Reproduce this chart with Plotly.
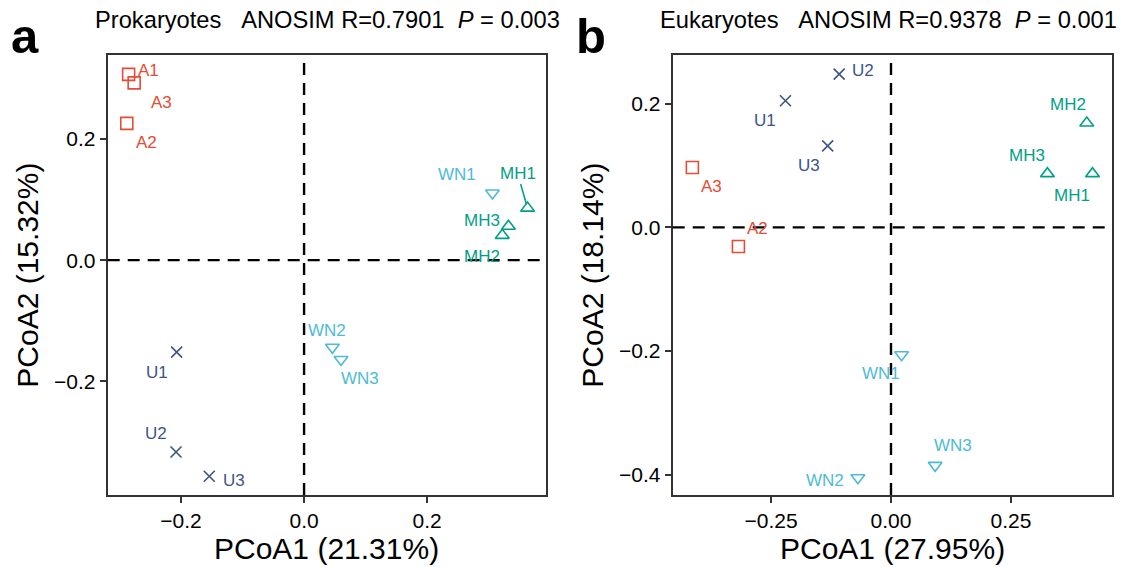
import plotly.graph_objects as go

FONT = "Liberation Sans, Arial, Helvetica, sans-serif"

# ---------------- data ----------------
# Panel a: Prokaryotes
pro_samples = ["A1", "A2", "A3", "MH1", "MH2", "MH3", "U1", "U2", "U3", "WN1", "WN2", "WN3"]
pro_pc1 = [-0.285, -0.288, -0.276, 0.363, 0.322, 0.332, -0.207, -0.208, -0.154, 0.306, 0.046, 0.060]
pro_pc2 = [0.307, 0.226, 0.293, 0.086, 0.041, 0.056, -0.152, -0.317, -0.357, 0.111, -0.144, -0.164]

# Panel b: Eukaryotes
euk_samples = ["A2", "A3", "MH1", "MH2", "MH3", "U1", "U2", "U3", "WN1", "WN2", "WN3"]
euk_pc1 = [-0.318, -0.414, 0.420, 0.408, 0.326, -0.220, -0.108, -0.132, 0.022, -0.069, 0.092]
euk_pc2 = [-0.031, 0.097, 0.087, 0.169, 0.087, 0.205, 0.248, 0.132, -0.206, -0.405, -0.385]

groups = ["A", "MH", "U", "WN"]
panel_titles = ["Prokaryotes", "Eukaryotes"]
anosim_r = ["0.7901", "0.9378"]
anosim_p = ["0.003", "0.001"]
x_titles = ["PCoA1 (21.31%)", "PCoA1 (27.95%)"]
y_titles = ["PCoA2 (15.32%)", "PCoA2 (18.14%)"]
panel_letters = ["a", "b"]
xtick_vals = [[-0.2, 0.0, 0.2], [-0.25, 0.0, 0.25]]
ytick_vals = [[-0.2, 0.0, 0.2], [-0.4, -0.2, 0.0, 0.2]]

# ---------------- style ----------------
colors = {"A": "#E64B35", "MH": "#00A087", "U": "#3C5488", "WN": "#4DBBD5"}
symbols = {"A": "square-open", "MH": "triangle-up-open", "U": "x-thin-open", "WN": "triangle-down-open"}
# label offsets in screen pixels (dx, dy downward), mimicking ggrepel placement
pro_label_off = {"A1": (20, -4), "A2": (20, 19), "A3": (27, 20), "MH1": (-10, -35),
                 "MH2": (-20, 21), "MH3": (-26, -6), "U1": (-20, 20), "U2": (-20, -19),
                 "U3": (25, 4), "WN1": (-35, -18), "WN2": (-5, -17), "WN3": (19, 19)}
euk_label_off = {"A2": (19, -18), "A3": (19, 19), "MH1": (-21, 22), "MH2": (-19, -18),
                 "MH3": (-20, -18), "U1": (-20, 20), "U2": (24, -4), "U3": (-19, 20),
                 "WN1": (-21, 19), "WN2": (-33, 3), "WN3": (18, -20)}
segment_labels = {("a", "MH1")}

W, H = 1129, 567
x_domains = [[107.7 / W, 546 / W], [672.7 / W, 1111.7 / W]]
y_domain = [1 - 495 / H, 1 - 55 / H]
x_ranges = [[-0.319, 0.393], [-0.455, 0.460]]
y_ranges = [[-0.388, 0.339], [-0.433, 0.279]]
tick_formats = [".1f", ".2f"]

fig = go.Figure()
annotations = []
shapes = []

panels = [
    (pro_samples, pro_pc1, pro_pc2, pro_label_off),
    (euk_samples, euk_pc1, euk_pc2, euk_label_off),
]

for i, (samples, pc1, pc2, offs) in enumerate(panels):
    xa = "x" if i == 0 else "x2"
    ya = "y" if i == 0 else "y2"
    for g in groups:
        idx = [k for k, s in enumerate(samples) if s.rstrip("0123456789") == g]
        fig.add_trace(go.Scatter(
            x=[pc1[k] for k in idx], y=[pc2[k] for k in idx],
            mode="markers", xaxis=xa, yaxis=ya, showlegend=False,
            marker=dict(symbol=symbols[g], size=12 if g != "U" else 11,
                        color=colors[g], line=dict(color=colors[g], width=1.6)),
            name=g,
        ))
        for k in idx:
            s = samples[k]
            dx, dy = offs[s]
            if (panel_letters[i], s) in segment_labels:
                annotations.append(dict(
                    x=pc1[k], y=pc2[k], xref=xa, yref=ya, text=s,
                    showarrow=True, ax=dx, ay=dy, arrowhead=0, arrowwidth=1.6,
                    arrowcolor=colors[g], standoff=4,
                    font=dict(family=FONT, size=17, color=colors[g])))
            else:
                annotations.append(dict(
                    x=pc1[k], y=pc2[k], xref=xa, yref=ya, text=s,
                    showarrow=False, xshift=dx, yshift=-dy,
                    font=dict(family=FONT, size=17, color=colors[g])))

    # dashed reference lines
    shapes.append(dict(type="line", xref=xa, yref=ya + " domain", x0=0, x1=0, y0=0, y1=1,
                       line=dict(color="black", width=2.4, dash="12px,8px")))
    shapes.append(dict(type="line", xref=xa + " domain", yref=ya, x0=0, x1=1, y0=0, y1=0,
                       line=dict(color="black", width=2.4, dash="12px,8px")))

    # titles
    nb = "\u00a0"
    annotations.append(dict(
        x=x_domains[i][0] - 15 / W, y=1 - 20 / H, xref="paper", yref="paper",
        xanchor="left", yanchor="middle", showarrow=False,
        text=f"{panel_titles[i]}{nb*3}ANOSIM R={anosim_r[i]}{nb*2}<i>P</i>{nb}={nb}{anosim_p[i]}",
        font=dict(family=FONT, size=23.7, color="black")))
    annotations.append(dict(
        x=x_domains[i][0] - 99 / W,
        y=1 - 36 / H, xref="paper", yref="paper",
        xanchor="left", yanchor="middle", showarrow=False,
        text=f"<b>{panel_letters[i]}</b>",
        font=dict(family=FONT, size=49, color="black")))
    annotations.append(dict(
        x=(x_domains[i][0] + x_domains[i][1]) / 2, y=1 - 548 / H, xref="paper", yref="paper",
        xanchor="center", yanchor="middle", showarrow=False, text=x_titles[i],
        font=dict(family=FONT, size=30, color="black")))
    annotations.append(dict(
        x=x_domains[i][0] - 81 / W, y=(y_domain[0] + y_domain[1]) / 2, xref="paper", yref="paper",
        xanchor="center", yanchor="middle", showarrow=False, text=y_titles[i], textangle=-90,
        font=dict(family=FONT, size=30, color="black")))

axis_common = dict(showgrid=False, zeroline=False, showline=True, mirror=True,
                   linecolor="#333333", linewidth=2, ticks="outside", ticklen=6,
                   tickwidth=2, tickcolor="#333333",
                   tickfont=dict(family=FONT, size=21, color="black"))

layout = dict(
    width=W, height=H, margin=dict(l=0, r=0, t=0, b=0),
    plot_bgcolor="white", paper_bgcolor="white",
    annotations=annotations, shapes=shapes, showlegend=False,
)
for i in range(2):
    xk = "xaxis" if i == 0 else "xaxis2"
    yk = "yaxis" if i == 0 else "yaxis2"
    layout[xk] = dict(axis_common, domain=x_domains[i], range=x_ranges[i],
                      tickvals=xtick_vals[i], tickformat=tick_formats[i],
                      anchor="y" if i == 0 else "y2")
    layout[yk] = dict(axis_common, domain=y_domain, range=y_ranges[i],
                      tickvals=ytick_vals[i], tickformat=".1f",
                      anchor="x" if i == 0 else "x2")

fig.update_layout(**layout)
fig.write_html("out.html", config={"displayModeBar": False},
               post_script="document.body.style.margin='0';")
